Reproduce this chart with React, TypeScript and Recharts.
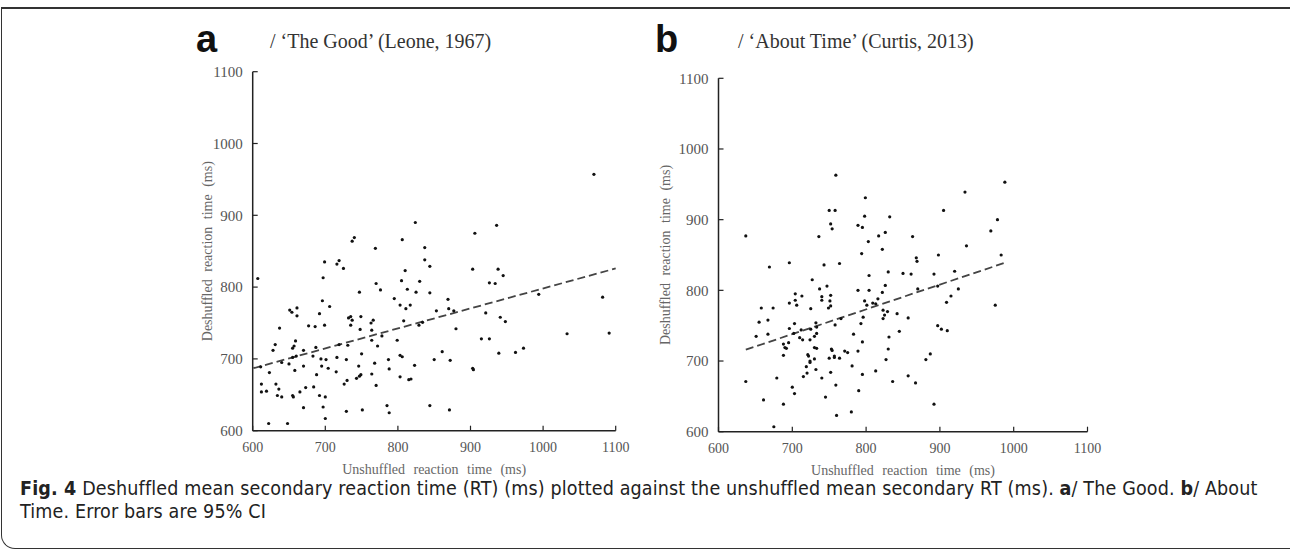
import React from 'react';
import { ScatterChart, Scatter, XAxis, YAxis, ReferenceLine } from 'recharts';

// tick values shared by both panels
const axisTicks = [600, 700, 800, 900, 1000, 1100];

// panel a: 'The Good' — [unshuffled, deshuffled] in ms
const goodPoints: [number, number][] = [
  [824, 890], [740, 869], [737, 864], [806, 866], [769, 854], [837, 855],
  [1070, 957], [906, 875], [936, 886],
  [837, 838], [844, 829], [607, 812], [699, 835], [697, 813], [716, 832], [719, 837], [725, 826],
  [770, 805], [776, 796], [747, 793], [805, 809], [810, 823], [813, 797], [825, 793], [830, 808],
  [844, 792], [795, 784], [803, 775], [811, 770], [817, 775], [808, 753], [829, 747], [834, 751],
  [853, 767], [869, 783], [870, 770], [877, 767], [880, 742], [696, 781], [706, 773], [692, 763],
  [651, 768], [654, 765], [661, 771], [661, 760], [637, 743], [677, 746], [686, 745], [699, 747],
  [732, 757], [735, 759], [737, 754], [749, 759], [735, 747], [763, 750], [766, 754], [748, 741],
  [764, 740], [778, 732], [764, 726], [772, 718], [799, 726], [631, 720], [628, 712], [655, 715],
  [657, 718], [659, 725], [670, 712], [687, 716], [719, 720], [731, 719], [660, 704], [655, 702],
  [683, 704], [694, 700], [701, 699], [716, 702], [729, 699], [750, 707], [611, 689], [640, 695],
  [650, 693], [658, 684], [670, 690], [695, 690], [704, 687], [688, 678], [715, 682], [746, 690],
  [749, 678], [747, 676], [743, 673], [768, 694], [764, 679], [623, 681], [730, 670], [726, 665],
  [770, 663], [787, 699], [788, 686], [803, 705], [806, 703], [803, 675], [815, 671], [818, 672],
  [823, 691], [850, 699], [861, 710], [872, 698], [612, 665], [612, 654], [619, 655], [632, 665],
  [636, 658], [634, 649], [640, 647], [655, 649], [656, 647], [665, 654], [673, 660], [684, 661],
  [692, 649], [700, 647], [670, 632], [697, 633], [700, 617], [622, 610], [648, 610], [729, 627],
  [751, 629], [785, 635], [788, 625], [844, 635], [871, 629],
  [903, 825], [938, 825], [945, 816], [926, 806], [934, 805], [921, 764], [941, 758], [948, 752],
  [994, 790], [1082, 786], [915, 728], [926, 728], [1033, 735], [1091, 736], [939, 708], [962, 709],
  [973, 715], [903, 687], [904, 685],
];

// panel b: 'About Time'
const aboutPoints: [number, number][] = [
  [759, 963], [799, 931], [750, 913], [758, 913], [798, 905], [832, 904], [752, 894], [754, 887],
  [789, 892], [795, 889], [637, 877], [736, 876], [826, 882], [817, 877], [803, 869], [822, 858],
  [988, 953], [934, 939], [905, 913], [978, 900], [863, 876], [969, 884], [936, 863],
  [794, 852], [669, 833], [696, 839], [743, 836], [764, 838], [804, 821], [830, 826], [727, 815],
  [747, 806], [737, 802], [789, 800], [804, 800], [826, 807], [822, 797], [704, 795], [696, 782],
  [704, 786], [706, 779], [713, 792], [740, 791], [740, 786], [752, 793], [751, 785], [749, 775],
  [752, 778], [725, 774], [798, 785], [801, 779], [809, 782], [813, 781], [816, 788], [823, 772],
  [823, 760], [829, 770], [842, 767], [658, 775], [674, 775], [655, 755], [667, 758], [651, 735],
  [667, 738], [703, 753], [696, 746], [702, 739], [712, 744], [710, 733], [714, 730], [725, 745],
  [732, 754], [733, 748], [730, 735], [724, 730], [733, 739], [758, 751], [766, 760], [783, 738],
  [793, 753], [796, 762], [795, 727], [688, 724], [690, 719], [692, 718], [695, 726], [688, 708],
  [730, 719], [733, 718], [721, 709], [722, 707], [724, 700], [724, 698], [730, 703], [719, 692],
  [732, 688], [720, 683], [715, 678], [740, 676], [753, 717], [754, 715], [750, 704], [757, 707],
  [757, 705], [764, 704], [771, 714], [775, 712], [789, 714], [752, 684], [759, 666], [781, 693],
  [795, 681], [813, 686], [827, 702], [830, 717], [831, 734], [836, 671], [845, 742], [637, 671],
  [679, 676], [700, 663], [703, 654], [661, 645], [688, 639], [745, 649], [760, 623], [780, 628],
  [790, 658], [675, 607],
  [983, 850], [898, 850], [868, 846], [869, 841], [850, 824], [861, 823], [892, 823], [920, 827],
  [870, 802], [897, 806], [925, 802], [915, 792], [909, 783], [975, 779], [825, 765], [857, 761],
  [897, 750], [902, 745], [910, 743], [887, 710], [881, 702], [857, 679], [867, 669], [892, 639],
];

// dashed regression lines, [x, y] end points
const goodFit: [number, number][] = [[601, 687], [1100, 826]];
const aboutFit: [number, number][] = [[637, 716], [988, 839]];

const serif = '"Liberation Serif", "Times New Roman", serif';

const Dot = (props: any) => <circle cx={props.cx} cy={props.cy} r={1.6} fill="#111" />;

// ticks point into the plot, labels sit outside
const XTick = ({ x, y, payload }: any) => {
  const axisY = y - 8;
  return (
    <g>
      <line x1={x} x2={x} y1={axisY} y2={axisY - 5} stroke="#222" strokeWidth={1.2} />
      <text x={x} y={axisY + 21} textAnchor="middle" fontFamily={serif} fontSize={14} fill="#555">
        {payload.value}
      </text>
    </g>
  );
};

const YTick = ({ x, y, payload }: any) => {
  const axisX = x + 10;
  return (
    <g>
      <line x1={axisX} x2={axisX + 5} y1={y} y2={y} stroke="#222" strokeWidth={1.2} />
      <text x={x} y={y} dy="0.35em" textAnchor="end" fontFamily={serif} fontSize={15} fill="#555">
        {payload.value}
      </text>
    </g>
  );
};

const XTitle = ({ viewBox }: any) => (
  <text
    x={viewBox.x + viewBox.width / 2}
    y={viewBox.y + 43}
    textAnchor="middle"
    fontFamily={serif}
    fontSize={14}
    fill="#666"
    wordSpacing={5}
  >
    Unshuffled reaction time (ms)
  </text>
);

const makeYTitle = (dx: number) => ({ viewBox }: any) => {
  const cx = viewBox.x + dx;
  const cy = viewBox.y + viewBox.height / 2;
  return (
    <text
      x={cx}
      y={cy}
      transform={`rotate(-90 ${cx} ${cy})`}
      textAnchor="middle"
      dominantBaseline="central"
      fontFamily={serif}
      fontSize={14}
      fill="#666"
      wordSpacing={4}
    >
      Deshuffled reaction time (ms)
    </text>
  );
};

function Panel({ points, fit, yAxisWidth, margin, yTitleX }: any) {
  const data = points.map(([x, y]: [number, number]) => ({ x, y }));
  return (
    <ScatterChart width={500} height={460} margin={margin}>
      <XAxis
        type="number"
        dataKey="x"
        domain={[600, 1100]}
        ticks={axisTicks}
        height={50}
        tickSize={0}
        tickMargin={8}
        tick={<XTick />}
        axisLine={{ stroke: '#222', strokeWidth: 1.5 }}
        label={{ content: <XTitle /> }}
        allowDataOverflow
      />
      <YAxis
        type="number"
        dataKey="y"
        domain={[600, 1100]}
        ticks={axisTicks}
        width={yAxisWidth}
        tickSize={0}
        tickMargin={10}
        tick={<YTick />}
        axisLine={{ stroke: '#222', strokeWidth: 1.5 }}
        label={{ content: makeYTitle(yTitleX) }}
        allowDataOverflow
      />
      <ReferenceLine
        segment={[{ x: fit[0][0], y: fit[0][1] }, { x: fit[1][0], y: fit[1][1] }]}
        stroke="#444"
        strokeWidth={1.8}
        strokeDasharray="8 4"
        ifOverflow="extendDomain"
      />
      <Scatter data={data} shape={<Dot />} isAnimationActive={false} />
    </ScatterChart>
  );
}

export default function App() {
  return (
    <div style={{ position: 'absolute', left: 0, top: 0, width: 1290, height: 550, background: '#fff', overflow: 'hidden' }}>
      <div
        style={{
          position: 'absolute', left: 1, top: 7, width: 1320, height: 539,
          borderTop: '2px solid #333', borderLeft: '1.5px solid #333', borderBottom: '1.5px solid #333',
          borderBottomLeftRadius: 14,
        }}
      />
      <div style={{ position: 'absolute', left: 196, top: 16, fontFamily: '"Liberation Sans", Arial, sans-serif', fontWeight: 700, fontSize: 38, color: '#111', lineHeight: '46px' }}>a</div>
      <div style={{ position: 'absolute', left: 270, top: 29, fontFamily: serif, fontSize: 20, color: '#333', lineHeight: '24px', whiteSpace: 'nowrap' }}>
        / ‘The Good’ (Leone, 1967)
      </div>
      <div style={{ position: 'absolute', left: 655, top: 16, fontFamily: '"Liberation Sans", Arial, sans-serif', fontWeight: 700, fontSize: 38, color: '#111', lineHeight: '46px' }}>b</div>
      <div style={{ position: 'absolute', left: 738, top: 29, fontFamily: serif, fontSize: 20, color: '#333', lineHeight: '24px', whiteSpace: 'nowrap' }}>
        / ‘About Time’ (Curtis, 2013)
      </div>

      <div style={{ position: 'absolute', left: 150, top: 40 }}>
        <Panel
          points={goodPoints}
          fit={goodFit}
          yAxisWidth={102.7}
          margin={{ top: 31.7, right: 34.3, bottom: 19.3, left: 0 }}
          yTitleX={58}
        />
      </div>
      <div style={{ position: 'absolute', left: 620, top: 40 }}>
        <Panel
          points={aboutPoints}
          fit={aboutFit}
          yAxisWidth={98.5}
          margin={{ top: 38.3, right: 32.5, bottom: 18.3, left: 0 }}
          yTitleX={45}
        />
      </div>

      <div style={{ position: 'absolute', left: 20, top: 477, fontFamily: '"DejaVu Sans Condensed", "Open Sans", sans-serif', fontSize: 19.5, letterSpacing: 0.15, lineHeight: '23px', color: '#222', whiteSpace: 'nowrap' }}>
        <b>Fig. 4</b> Deshuffled mean secondary reaction time (RT) (ms) plotted against the unshuffled mean secondary RT (ms). <b>a</b>/ The Good. <b>b</b>/ About
        <br />
        Time. Error bars are 95% CI
      </div>
    </div>
  );
}
